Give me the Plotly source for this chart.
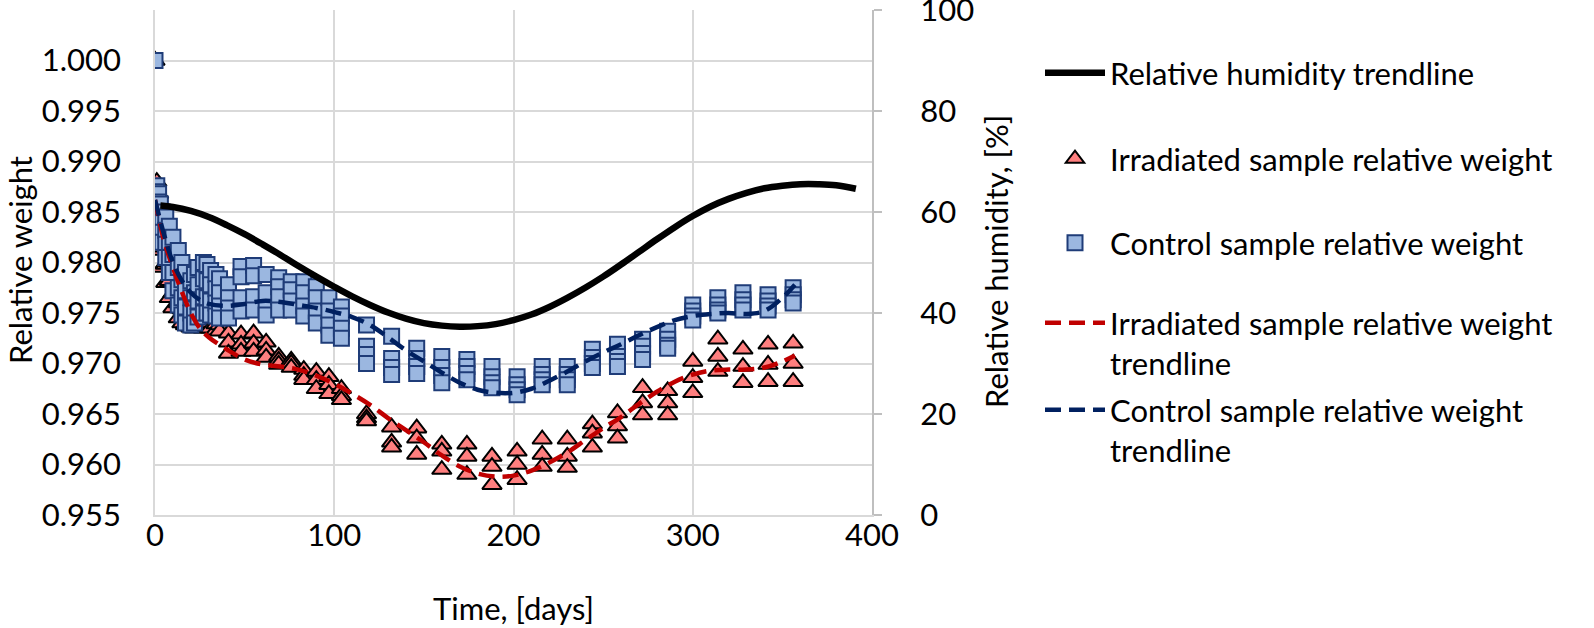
import plotly.graph_objects as go

# ---------------- data ----------------
rh_days = [3, 10, 20, 30, 40, 50, 60, 70, 80, 90, 100, 110, 120, 130, 140, 150, 160, 170,
           180, 190, 200, 210, 220, 230, 240, 250, 260, 270, 280, 290, 300, 310, 320, 330,
           340, 350, 360, 370, 380, 391]
rh_values = [61.3, 61.0, 60.2, 59.0, 57.4, 55.6, 53.6, 51.5, 49.3, 47.2, 45.2, 43.3, 41.6,
             40.1, 38.9, 38.0, 37.5, 37.3, 37.4, 37.8, 38.6, 39.7, 41.2, 43.0, 45.0, 47.2,
             49.6, 52.1, 54.6, 57.0, 59.2, 61.1, 62.6, 63.8, 64.7, 65.2, 65.5, 65.5, 65.3, 64.6]

irr_days = [0,
            1, 1, 1, 2, 2, 2, 3, 3, 3, 4, 4, 4, 6, 6, 6, 8, 8, 8, 10, 10, 10, 13, 13, 13,
            15, 15, 15, 17, 17, 17, 20, 20, 20, 22, 22, 22, 24, 24, 24, 27, 27, 27, 29, 29, 29,
            31, 31, 31, 34, 34, 34, 36, 36, 36, 41, 41, 41, 48, 48, 48, 55, 55, 55, 62, 62, 62,
            69, 69, 69, 76, 76, 76, 83, 83, 83, 90, 90, 90, 97, 97, 97, 104, 104, 104,
            118, 118, 118, 132, 132, 132, 146, 146, 146, 160, 160, 160, 174, 174, 174,
            188, 188, 188, 202, 202, 202, 216, 216, 216, 230, 230, 230, 244, 244, 244,
            258, 258, 258, 272, 272, 272, 286, 286, 286, 300, 300, 300, 314, 314, 314,
            328, 328, 328, 342, 342, 342, 356, 356, 356]
irr_weight = [1.000,
              0.9880, 0.9870, 0.9860, 0.9868, 0.9850, 0.9835, 0.9850, 0.9830, 0.9812,
              0.9835, 0.9815, 0.9795, 0.9818, 0.9798, 0.9780, 0.9800, 0.9782, 0.9765,
              0.9788, 0.9770, 0.9755, 0.9775, 0.9760, 0.9745, 0.9768, 0.9754, 0.9740,
              0.9762, 0.9750, 0.9738, 0.9757, 0.9746, 0.9736, 0.9752, 0.9744, 0.9735,
              0.9750, 0.9742, 0.9736, 0.9748, 0.9741, 0.9735, 0.9748, 0.9742, 0.9736,
              0.9747, 0.9740, 0.9735, 0.9746, 0.9739, 0.9733, 0.9745, 0.9738, 0.9732,
              0.9730, 0.9721, 0.9710, 0.9729, 0.9719, 0.9712, 0.9730, 0.9720, 0.9712,
              0.9721, 0.9713, 0.9706, 0.9707, 0.9703, 0.9699, 0.9703, 0.9700, 0.9696,
              0.9694, 0.9688, 0.9684, 0.9692, 0.9684, 0.9675, 0.9687, 0.9679, 0.9670,
              0.9675, 0.9668, 0.9664, 0.9650, 0.9646, 0.9643, 0.9637, 0.9622, 0.9617,
              0.9636, 0.9626, 0.9610, 0.9620, 0.9613, 0.9595, 0.9620, 0.9608, 0.9590,
              0.9608, 0.9598, 0.9580, 0.9613, 0.9600, 0.9585, 0.9625, 0.9610, 0.9598,
              0.9625, 0.9608, 0.9597, 0.9640, 0.9631, 0.9617, 0.9651, 0.9638, 0.9626,
              0.9676, 0.9661, 0.9649, 0.9673, 0.9661, 0.9649, 0.9702, 0.9686, 0.9671,
              0.9724, 0.9707, 0.9692, 0.9714, 0.9697, 0.9681, 0.9719, 0.9699, 0.9682,
              0.9720, 0.9700, 0.9682]

ctrl_days = [0,
             1, 1, 1, 1, 2, 2, 2, 2, 3, 3, 3, 3, 4, 4, 4, 4, 6, 6, 6, 6, 8, 8, 8, 8,
             10, 10, 10, 10, 13, 13, 13, 13, 15, 15, 15, 15, 17, 17, 17, 17, 20, 20, 20, 20,
             22, 22, 22, 22, 24, 24, 24, 24, 27, 27, 27, 27, 29, 29, 29, 29, 31, 31, 31, 31,
             34, 34, 34, 34, 36, 36, 36, 36, 41, 41, 41, 41, 48, 48, 48, 48, 55, 55, 55, 55,
             62, 62, 62, 62, 69, 69, 69, 69, 76, 76, 76, 76, 83, 83, 83, 83, 90, 90, 90, 90,
             97, 97, 97, 97, 104, 104, 104, 104, 118, 118, 118, 118, 132, 132, 132, 132,
             146, 146, 146, 146, 160, 160, 160, 160, 174, 174, 174, 174, 188, 188, 188, 188,
             202, 202, 202, 202, 216, 216, 216, 216, 230, 230, 230, 230, 244, 244, 244, 244,
             258, 258, 258, 258, 272, 272, 272, 272, 286, 286, 286, 286, 300, 300, 300, 300,
             314, 314, 314, 314, 328, 328, 328, 328, 342, 342, 342, 342, 356, 356, 356, 356]
ctrl_weight = [1.000,
               0.9876, 0.9870, 0.9864, 0.9858, 0.9868, 0.9860, 0.9852, 0.9845,
               0.9858, 0.9849, 0.9840, 0.9832, 0.9850, 0.9840, 0.9830, 0.9820,
               0.9845, 0.9832, 0.9818, 0.9805, 0.9836, 0.9820, 0.9805, 0.9790,
               0.9825, 0.9808, 0.9790, 0.9772, 0.9812, 0.9795, 0.9775, 0.9758,
               0.9800, 0.9783, 0.9765, 0.9748, 0.9790, 0.9772, 0.9756, 0.9740,
               0.9782, 0.9765, 0.9750, 0.9738, 0.9788, 0.9770, 0.9754, 0.9740,
               0.9795, 0.9778, 0.9762, 0.9746, 0.9800, 0.9784, 0.9766, 0.9750,
               0.9798, 0.9782, 0.9765, 0.9750, 0.9792, 0.9778, 0.9762, 0.9748,
               0.9788, 0.9774, 0.9760, 0.9747, 0.9784, 0.9770, 0.9757, 0.9745,
               0.9778, 0.9765, 0.9755, 0.9745, 0.9796, 0.9786, 0.9765, 0.9752,
               0.9797, 0.9787, 0.9766, 0.9753, 0.9788, 0.9770, 0.9755, 0.9748,
               0.9785, 0.9776, 0.9766, 0.9753, 0.9781, 0.9773, 0.9762, 0.9753,
               0.9781, 0.9770, 0.9757, 0.9747, 0.9776, 0.9765, 0.9752, 0.9740,
               0.9765, 0.9752, 0.9738, 0.9728, 0.9756, 0.9747, 0.9735, 0.9725,
               0.9738, 0.9717, 0.9709, 0.9700, 0.9727, 0.9705, 0.9696, 0.9689,
               0.9715, 0.9705, 0.9697, 0.9690, 0.9707, 0.9696, 0.9688, 0.9681,
               0.9704, 0.9697, 0.9690, 0.9684, 0.9697, 0.9687, 0.9681, 0.9676,
               0.9687, 0.9679, 0.9674, 0.9669, 0.9697, 0.9689, 0.9684, 0.9679,
               0.9697, 0.9689, 0.9684, 0.9679, 0.9714, 0.9706, 0.9700, 0.9696,
               0.9719, 0.9707, 0.9702, 0.9697, 0.9724, 0.9717, 0.9710, 0.9704,
               0.9732, 0.9724, 0.9718, 0.9715, 0.9758, 0.9752, 0.9747, 0.9743,
               0.9765, 0.9758, 0.9753, 0.9750, 0.9770, 0.9763, 0.9758, 0.9753,
               0.9768, 0.9762, 0.9757, 0.9753, 0.9775, 0.9768, 0.9763, 0.9760]

trend_days = [0, 5, 10, 15, 20, 25, 30, 40, 50, 60, 70, 80, 90, 100, 110, 120, 130, 140,
              150, 160, 170, 180, 190, 200, 210, 220, 230, 240, 250, 260, 270, 280, 290,
              300, 310, 320, 330, 340, 350, 357]
irr_trend = [0.9862, 0.9822, 0.9795, 0.9771, 0.9750, 0.9735, 0.9726, 0.9714, 0.9704,
             0.9699, 0.9697, 0.9694, 0.9688, 0.9680, 0.9670, 0.9659, 0.9646, 0.9634,
             0.9622, 0.9609, 0.9598, 0.9591, 0.9588, 0.9589, 0.9594, 0.9602, 0.9612,
             0.9624, 0.9636, 0.9647, 0.9660, 0.9672, 0.9682, 0.9689, 0.9693, 0.9694,
             0.9694, 0.9696, 0.9702, 0.9708]
ctrl_trend = [0.9862, 0.9828, 0.9800, 0.9782, 0.9770, 0.9763, 0.9759, 0.9757, 0.9759,
              0.9762, 0.9761, 0.9758, 0.9755, 0.9751, 0.9746, 0.9738, 0.9726, 0.9713,
              0.9702, 0.9691, 0.9681, 0.9674, 0.9671, 0.9671, 0.9675, 0.9683, 0.9692,
              0.9702, 0.9711, 0.9719, 0.9728, 0.9736, 0.9743, 0.9747, 0.9749, 0.9750,
              0.9749, 0.9752, 0.9765, 0.9778]

x_ticks = [0, 100, 200, 300, 400]
w_ticks = [0.955, 0.960, 0.965, 0.970, 0.975, 0.980, 0.985, 0.990, 0.995, 1.000, 1.005]
w_ticktext = ["0.955", "0.960", "0.965", "0.970", "0.975", "0.980", "0.985", "0.990",
              "0.995", "1.000", ""]
rh_ticks = [0, 20, 40, 60, 80, 100]

# ---------------- figure ----------------
FONT = "Lato, Open Sans, sans-serif"
FS = 31
GRID = "#D9D9D9"

fig = go.Figure()

fig.add_trace(go.Scatter(
    x=irr_days, y=irr_weight, mode="markers",
    name="Irradiated sample relative weight", legend="legend2",
    marker=dict(symbol="triangle-up", size=17, color="#FF7F7F",
                line=dict(color="#000000", width=2)),
))
fig.add_trace(go.Scatter(
    x=ctrl_days, y=ctrl_weight, mode="markers",
    name="Control sample relative weight", legend="legend3",
    marker=dict(symbol="square", size=15, color="#9BB7E0",
                line=dict(color="#1F3C78", width=2)),
))
fig.add_trace(go.Scatter(
    x=trend_days, y=irr_trend, mode="lines", line_shape="spline",
    name="Irradiated sample relative weight<br>trendline", legend="legend4",
    line=dict(color="#C00000", width=4.5, dash="16px,8px"),
))
fig.add_trace(go.Scatter(
    x=trend_days, y=ctrl_trend, mode="lines", line_shape="spline",
    name="Control sample relative weight<br>trendline", legend="legend5",
    line=dict(color="#002060", width=4.5, dash="16px,8px"),
))
fig.add_trace(go.Scatter(
    x=rh_days, y=rh_values, mode="lines", line_shape="spline", yaxis="y2",
    name="Relative humidity trendline", legend="legend",
    line=dict(color="#000000", width=6.5),
))

L, R, T, B = 155, 722, 10, 113
pw, ph = 1594 - L - R, 628 - T - B


def px_x(px):
    return (px - L) / pw


def px_y(py):
    return (628 - B - py) / ph


LEGX = px_x(1040)
leg_common = dict(x=LEGX, xanchor="left", yanchor="middle", bgcolor="rgba(0,0,0,0)",
                  borderwidth=0, itemwidth=60, valign="top",
                  font=dict(family=FONT, size=FS, color="#000000"))

fig.update_layout(
    width=1594, height=628,
    margin=dict(l=L, r=R, t=T, b=B, autoexpand=False),
    paper_bgcolor="white", plot_bgcolor="white",
    font=dict(family=FONT, size=FS, color="#000000"),
    showlegend=True,
    legend=dict(y=px_y(73), **leg_common),
    legend2=dict(y=px_y(159), **leg_common),
    legend3=dict(y=px_y(243), **leg_common),
    legend4=dict(y=px_y(343), **leg_common),
    legend5=dict(y=px_y(430), **leg_common),
    xaxis=dict(range=[0, 400], tickvals=x_ticks, showgrid=True, gridcolor=GRID,
               gridwidth=1.5, showline=True, linecolor=GRID, linewidth=1.5,
               zeroline=False, ticks="", automargin=False, ticklabelstandoff=-8,
               tickfont=dict(family=FONT, size=FS, color="#000000")),
    yaxis=dict(range=[0.955, 1.005], tickvals=w_ticks, ticktext=w_ticktext,
               showgrid=True, gridcolor=GRID, gridwidth=1.5, showline=True,
               linecolor=GRID, linewidth=1.5, zeroline=False, ticks="",
               ticklabelstandoff=26, automargin=False, ticklabeloverflow="allow",
               tickfont=dict(family=FONT, size=FS, color="#000000")),
    yaxis2=dict(range=[0, 100], tickvals=rh_ticks, overlaying="y", side="right",
                showgrid=False, showline=True, linecolor="#BFBFBF", linewidth=2,
                ticks="outside", ticklen=8, tickwidth=2, tickcolor="#BFBFBF",
                zeroline=False, ticklabelstandoff=32, automargin=False,
                ticklabeloverflow="allow",
                tickfont=dict(family=FONT, size=FS, color="#000000")),
    annotations=[
        dict(text="Time, [days]", xref="paper", yref="paper", x=px_x(513), y=px_y(608),
             xanchor="center", yanchor="middle", showarrow=False,
             font=dict(family=FONT, size=FS, color="#000000")),
        dict(text="Relative weight", xref="paper", yref="paper", x=px_x(20), y=px_y(260),
             xanchor="center", yanchor="middle", showarrow=False, textangle=-90,
             font=dict(family=FONT, size=FS, color="#000000")),
        dict(text="Relative humidity, [%]", xref="paper", yref="paper", x=px_x(996),
             y=px_y(262), xanchor="center", yanchor="middle", showarrow=False,
             textangle=-90, font=dict(family=FONT, size=FS, color="#000000")),
    ],
)

fig.write_html("out.html", config={"displayModeBar": False},
               post_script="document.body.style.margin='0px';")
